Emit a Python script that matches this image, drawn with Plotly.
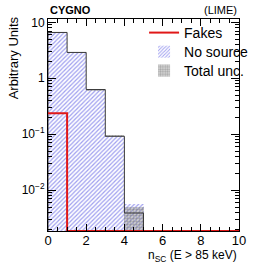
import numpy as np
import plotly.graph_objects as go

# ---- data ----
bin_edges = [0, 1, 2, 3, 4, 5, 6, 7, 8, 9, 10]
no_source = [6.6, 2.9, 0.63, 0.092, 0.0039, 0, 0, 0, 0, 0]
unc_low = [6.35, 2.79, 0.605, 0.088, 0.0012, 0, 0, 0, 0, 0]
unc_high = [6.85, 3.01, 0.655, 0.096, 0.0050, 0, 0, 0, 0, 0]
fakes = [0.237, 0, 0, 0, 0, 0, 0, 0, 0, 0]
y_tick_vals = [0.01, 0.1, 1, 10]
y_tick_text = ["10<sup>−2</sup>", "10<sup>−1</sup>", "1", "10"]
x_tick_vals = [0, 2, 4, 6, 8, 10]

LOG_YMIN, LOG_YMAX = -2.73, 1.06
ymin = 10 ** LOG_YMIN

edges = np.array(bin_edges, dtype=float)
centers = 0.5 * (edges[:-1] + edges[1:])
widths = np.diff(edges)
ns = np.array(no_source)
lo = np.array(unc_low)
hi = np.array(unc_high)

FONT = "Liberation Sans, Arial, Helvetica, sans-serif"

fig = go.Figure()

# No source filled (hatched) bars
mask = ns > 0
fig.add_trace(go.Bar(
    x=centers[mask], y=ns[mask], width=widths[mask], base=ymin,
    name="No source", legend="legend2",
    marker=dict(color="white", line=dict(width=0),
                pattern=dict(shape="/", fgcolor="#4040e0", bgcolor="white",
                             size=3, solidity=0.4)),
))

# Total uncertainty band
umask = hi > 0
fig.add_trace(go.Bar(
    x=centers[umask], y=(hi - np.maximum(lo, ymin))[umask],
    base=np.maximum(lo, ymin)[umask], width=widths[umask],
    name="Total unc.", legend="legend3",
    marker=dict(color="rgba(0,0,0,0)", line=dict(width=0),
                pattern=dict(shape=".", fgcolor="#707070",
                             bgcolor="rgba(150,150,150,0.35)",
                             size=3, solidity=0.5)),
))

# No source outline (step)
ns_clip = np.clip(ns, ymin, None)
last = int(np.max(np.nonzero(ns)[0]))
sx = [edges[0]] + list(edges[:last + 1]) + [edges[last + 1]]
sy = [ymin] + list(ns_clip[:last + 1]) + [ymin]
fig.add_trace(go.Scatter(
    x=sx, y=sy, mode="lines", line=dict(shape="hv", color="#3a3a3a", width=1),
    showlegend=False, hoverinfo="skip",
))

# Fakes (red step)
fk = np.clip(np.array(fakes), ymin, None)
fx = list(edges[:-1]) + [edges[-1]]
fy = list(fk) + [fk[-1]]
fig.add_trace(go.Scatter(
    x=fx, y=fy, mode="lines", name="Fakes", legend="legend",
    line=dict(shape="hv", color="#e01818", width=2),
))

minor_y = [m * 10 ** k for k in range(-3, 2) for m in range(2, 10)]


def leg(y):
    return dict(x=0.503, y=y, xanchor="left", yanchor="middle",
                bgcolor="rgba(0,0,0,0)", font=dict(size=14, family=FONT),
                itemwidth=30, borderwidth=0)


fig.update_layout(
    width=266, height=266,
    margin=dict(l=48, r=21, t=19, b=35),
    paper_bgcolor="white", plot_bgcolor="white",
    barmode="overlay", bargap=0,
    font=dict(family=FONT, size=12, color="black"),
    showlegend=True,
    legend=leg(0.934), legend2=leg(0.844), legend3=leg(0.755),
    xaxis=dict(range=[0, 10], showline=True, linecolor="black", linewidth=1,
               mirror="allticks", ticks="inside", ticklen=7, tickcolor="black",
               tickvals=x_tick_vals, showgrid=False, zeroline=False,
               tickfont=dict(size=13), ticklabelstandoff=-3,
               minor=dict(ticks="inside", ticklen=4, dtick=0.5, tick0=0,
                          tickcolor="black", showgrid=False)),
    yaxis=dict(type="log", range=[LOG_YMIN, LOG_YMAX], showline=True,
               linecolor="black", linewidth=1, mirror="allticks",
               ticks="inside", ticklen=8, tickcolor="black",
               tickvals=y_tick_vals, ticktext=y_tick_text,
               showgrid=False, zeroline=False, tickfont=dict(size=12),
               minor=dict(ticks="inside", ticklen=4, tickvals=minor_y,
                          tickcolor="black", showgrid=False)),
    annotations=[
        dict(text="<b>CYGNO</b>", xref="paper", yref="paper", x=0.0, y=1.0,
             xanchor="left", yanchor="bottom", yshift=1, showarrow=False,
             font=dict(size=11, family=FONT)),
        dict(text="(LIME)", xref="paper", yref="paper", x=1.0, y=1.0,
             xanchor="right", yanchor="bottom", yshift=1, showarrow=False,
             font=dict(size=11, family=FONT)),
        dict(text="Arbitrary Units", xref="paper", yref="paper", x=-0.183,
             y=1.02, xanchor="center", yanchor="top", textangle=-90,
             showarrow=False, font=dict(size=13, family=FONT)),
        dict(text="n<sub>SC</sub> (E > 85 keV)", xref="paper", yref="paper",
             x=1.0, y=-0.073, xanchor="right", yanchor="top",
             showarrow=False, font=dict(size=12, family=FONT)),
    ],
)

fig.write_html("out.html", config={"displayModeBar": False},
               post_script="document.body.style.margin='0px';")
